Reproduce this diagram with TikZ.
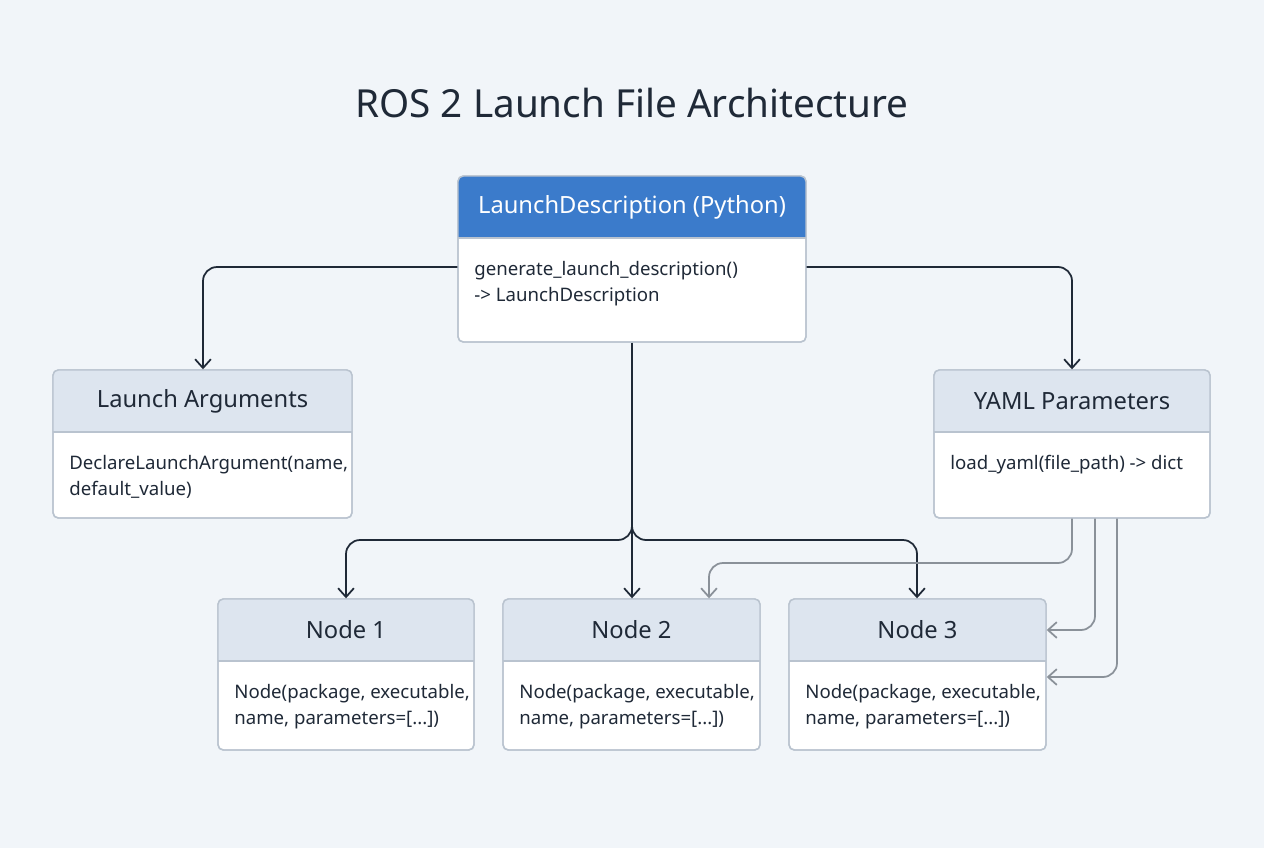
\documentclass[tikz,border=0pt]{standalone}
\usepackage{fontspec}
\setmainfont{Noto Sans}
\usetikzlibrary{positioning,arrows.meta}
\definecolor{bg}{HTML}{F1F5F9}
\definecolor{hdr}{HTML}{DDE5EF}
\definecolor{edge}{HTML}{B9C3CF}
\definecolor{blu}{HTML}{3B7BCB}
\definecolor{ink}{HTML}{1F2937}
\definecolor{gry}{HTML}{8A9199}
\tikzset{
  box/.style={draw=edge,fill=white,rounded corners=3pt,line width=0.8pt,inner sep=0pt},
  head/.style={font=\fontsize{13.5}{16}\selectfont,text=ink},
  body/.style={font=\fontsize{10.6}{14.8}\selectfont,text=ink,align=left,anchor=north west,inner sep=0pt},
  link/.style={draw=ink,line width=1pt,rounded corners=8pt,-{Straight Barb[length=5pt,width=9pt]}},
  feed/.style={draw=gry,line width=1pt,rounded corners=8pt,-{Straight Barb[length=5pt,width=9pt]}}
}
% box: name, x1, y1, x2, y2, header y, header colour, title, body
\newcommand\umlbox[9]{%
  \node[box,minimum width={(#4-#2)*0.02cm},minimum height={(#5-#3)*0.02cm}] (#1) at ({(#2+#4)/2},{(#3+#5)/2}) {};
  \begin{scope}
    \clip[rounded corners=3pt] (#2,#3) rectangle (#4,#5);
    \fill[#7] (#2,#3) rectangle (#4,#6);
  \end{scope}
  \draw[edge,line width=0.8pt] (#2,#6) -- (#4,#6);
  \draw[edge,line width=0.8pt,rounded corners=3pt] (#2,#3) rectangle (#4,#5);
  \node[head] (#1-h) at ({(#2+#4)/2},{(#3+#6)/2}) {#8};
  \node[body] (#1-b) at ({#2+16},{#6+23}) {#9};
}
\begin{document}
\begin{tikzpicture}[x=0.02cm,y=-0.02cm]
\fill[bg] (0,0) rectangle (1264,848);
\node[font=\fontsize{22}{26}\selectfont,text=ink] (title) at (632,103) {ROS 2 Launch File Architecture};

\umlbox{ld}{458}{176}{806}{342}{238}{blu}{\color{white}LaunchDescription (Python)}{generate\_launch\_description()\\-> LaunchDescription}
\umlbox{args}{53}{370}{352}{518}{432}{hdr}{Launch Arguments}{DeclareLaunchArgument(name,\\default\_value)}
\umlbox{yaml}{934}{370}{1210}{518}{432}{hdr}{YAML Parameters}{load\_yaml(file\_path) -> dict}
\umlbox{nodeA}{218}{599}{474}{750}{661}{hdr}{Node 1}{Node(package, executable,\\name, parameters=[...])}
\umlbox{nodeB}{503}{599}{760}{750}{661}{hdr}{Node 2}{Node(package, executable,\\name, parameters=[...])}
\umlbox{nodeC}{789}{599}{1046}{750}{661}{hdr}{Node 3}{Node(package, executable,\\name, parameters=[...])}

\draw[link] (ld.west |- 0,267) -| (args.north -| 203,0);
\draw[link] (ld.east |- 0,267) -| (yaml.north -| 1072,0);
\draw[link] (ld.south -| 632,0) -- (nodeB.north -| 632,0);
\draw[link] (632,520) |- (346,540) -- (nodeA.north -| 346,0);
\draw[link] (632,520) |- (917,540) -- (nodeC.north -| 917,0);
\draw[feed] (yaml.south -| 1072,0) |- (709,563) -- (nodeB.north -| 709,0);
\draw[feed] (yaml.south -| 1095,0) |- (nodeC.east |- 0,630);
\draw[feed] (yaml.south -| 1117,0) |- (nodeC.east |- 0,677);
\end{tikzpicture}
\end{document}
